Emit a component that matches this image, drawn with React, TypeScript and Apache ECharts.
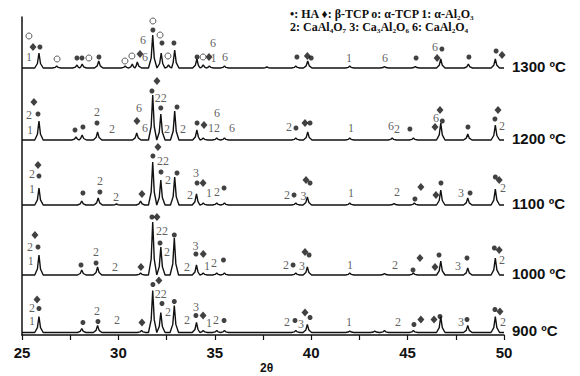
import React, { useEffect, useRef } from 'react';
import * as echarts from 'echarts';

type Peak = [number, number];
type Ann = [number, number, string];

const temperatures = ['900 ºC', '1000 ºC', '1100 ºC', '1200 ºC', '1300 ºC'];
const offsets = [2.5, 60, 130, 195, 267];

const peaks900: Peak[] = [[25.88,16],[28.1,4],[28.92,7],[31.2,2],[31.78,42],[32.2,20],[32.9,27],[34.05,10],[34.4,2],[35.1,2],[35.5,2],[39.2,2],[39.8,8],[42.0,1.5],[43.3,1.5],[43.8,2],[45.3,2],[46.72,16],[48.12,7],[49.55,16]];
const peaks1000: Peak[] = [[25.88,20],[28.1,5],[28.92,8],[31.15,2],[31.78,53],[32.2,28],[32.9,37],[34.05,10],[34.4,2],[35.1,2],[35.5,2],[39.2,2],[39.8,8],[42.0,2],[43.8,1.5],[45.3,2],[46.72,14],[48.12,7],[49.55,17]];
const peaks1100: Peak[] = [[25.88,17],[28.1,4],[28.95,7],[29.9,1],[31.15,4],[31.78,43],[32.2,25],[32.92,28],[34.05,11],[34.4,2],[35.1,2],[35.5,2],[39.2,2],[39.8,8],[42.0,2],[44.3,1.5],[45.35,2],[46.72,15],[48.12,7],[49.55,16]];
const peaks1200: Peak[] = [[25.88,19],[27.8,3],[28.12,5],[28.92,8],[30.95,7],[31.78,45],[32.2,26],[32.92,29],[34.07,10],[34.4,2],[35.1,2],[35.5,2],[39.2,2],[39.82,8],[42.0,2],[44.2,2],[45.3,2],[46.72,17],[48.12,6],[49.55,15]];
const peaks1300: Peak[] = [[25.88,15],[26.8,2],[27.85,3],[28.12,4],[28.98,7],[30.35,2],[30.72,4],[30.98,6],[31.78,33],[32.22,15],[32.6,3],[32.92,18],[34.07,9],[34.4,3],[34.72,2],[35.5,2],[37.7,1],[39.2,2],[39.82,7],[42.0,2],[43.8,1.5],[45.4,1.5],[46.72,9],[48.15,4],[49.55,9]];

const ann900: Ann[] = [
  [25.78,33,'♦'],[25.52,25,'2'],[25.88,24,'•'],[25.52,12,'1'],
  [28.16,10,'•'],[28.89,22,'2'],[28.94,11,'•'],[29.93,13,'2'],[31.22,10,'♦'],
  [31.79,48,'•'],[32.1,52,'♦'],[32.2,39,'22'],[32.26,29,'•'],[32.57,21,'2'],[32.9,31,'•'],[33.56,13,'2'],
  [34.03,26,'3'],[34.02,17,'•'],[34.39,17,'♦'],[34.7,10,'1'],[35.06,13,'2'],[35.48,12,'•'],
  [38.74,11,'2'],[39.16,12,'•'],[39.47,9,'3'],[39.68,20,'♦'],[39.94,15,'•'],[41.96,11,'1'],
  [44.5,11,'2'],[45.33,8,'•'],[45.69,13,'♦'],[46.37,13,'♦'],[46.68,16,'•'],
  [47.77,11,'3'],[48.08,13,'•'],[49.53,23,'•'],[49.79,21,'♦'],[49.95,11,'2'],
];
const ann1000: Ann[] = [
  [25.67,40,'♦'],[25.41,28,'2'],[25.83,28,'•'],[25.46,14,'1'],
  [28.06,10,'•'],[28.84,23,'2'],[28.84,12,'•'],[29.83,8,'2'],[31.17,8,'♦'],
  [31.74,58,'•'],[32.0,58,'♦'],[32.26,44,'22'],[32.16,32,'•'],[32.52,23,'2'],[32.9,40,'•'],[33.56,8,'2'],
  [34.0,29,'3'],[34.02,21,'•'],[34.4,21,'♦'],[34.6,9,'1'],[34.96,12,'2'],[35.45,15,'•'],
  [38.69,10,'2'],[39.06,10,'•'],[39.52,9,'3'],[39.68,23,'♦'],[39.89,20,'•'],[42.01,10,'1'],
  [44.35,10,'2'],[45.28,5,'•'],[45.64,17,'♦'],[46.42,8,'♦'],[46.63,20,'•'],
  [47.62,9,'3'],[48.08,17,'•'],[49.5,27,'•'],[49.75,25,'♦'],[49.9,15,'2'],
];
const ann1100: Ann[] = [
  [25.83,40,'♦'],[25.52,31,'2'],[25.88,29,'•'],[25.52,16,'1'],
  [28.16,12,'•'],[29.04,24,'2'],[29.04,13,'•'],[29.88,8,'2'],[31.22,11,'♦'],
  [32.05,58,'♦'],[31.79,49,'•'],[32.31,44,'22'],[32.21,33,'•'],[32.57,25,'2'],[33.04,32,'•'],[33.71,10,'2'],
  [34.03,32,'3'],[34.08,22,'•'],[34.39,22,'♦'],[34.7,12,'1'],[35.11,13,'2'],[35.48,17,'•'],
  [38.74,10,'2'],[39.11,10,'•'],[39.6,9,'3'],[39.73,25,'♦'],[39.94,22,'•'],[42.06,12,'1'],
  [44.45,13,'2'],[45.38,6,'•'],[45.69,18,'♦'],[46.47,10,'♦'],[46.73,22,'•'],
  [47.77,12,'3'],[48.24,12,'•'],[49.55,28,'•'],[49.75,25,'♦'],[49.95,17,'2'],
];
const ann1200: Ann[] = [
  [25.62,38,'♦'],[25.36,25,'2'],[25.83,26,'•'],[25.41,10,'1'],
  [27.75,10,'•'],[28.16,13,'•'],[28.89,28,'2'],[28.89,17,'•'],[29.67,11,'2'],
  [31.07,32,'6'],[30.96,19,'♦'],[31.38,12,'6'],
  [32.0,59,'♦'],[31.74,49,'•'],[32.2,42,'22'],[32.2,32,'•'],[32.52,11,'2'],[33.04,33,'•'],[33.35,11,'2'],
  [34.08,17,'•'],[34.44,15,'♦'],[34.96,12,'12'],[35.11,27,'6'],[35.89,12,'6'],
  [38.85,13,'2'],[39.21,12,'•'],[39.68,17,'♦'],[39.94,17,'•'],[42.06,12,'1'],
  [44.14,14,'6'],[44.45,11,'2'],[45.12,11,'•'],[46.42,13,'♦'],[46.47,22,'6'],[46.68,30,'♦'],[46.8,19,'•'],
  [48.13,13,'•'],[49.69,30,'♦'],[49.53,21,'•'],[49.9,14,'2'],
];
const ann1300: Ann[] = [
  [25.36,32,'o'],[25.57,21,'♦'],[25.93,21,'•'],[25.36,11,'1'],
  [26.82,9,'o'],[27.85,10,'•'],[28.11,10,'•'],[28.47,10,'o'],[28.99,11,'•'],
  [30.34,7,'o'],[30.7,12,'o'],[31.12,14,'♦'],[31.38,11,'6'],[31.28,28,'6'],
  [31.79,47,'o'],[31.79,38,'•'],[32.16,33,'o'],[32.26,25,'•'],[32.57,12,'o'],[32.88,25,'•'],
  [34.08,11,'•'],[34.39,11,'o'],[34.7,11,'♦'],[34.93,10,'1'],[34.91,25,'6'],[35.53,11,'6'],
  [39.26,11,'•'],[39.8,12,'♦'],[40.0,10,'•'],[41.96,10,'1'],[43.83,10,'6'],[45.44,10,'•'],
  [46.42,21,'6'],[46.53,10,'♦'],[46.78,19,'•'],[48.18,11,'•'],[49.59,17,'•'],[49.9,13,'♦'],
];

const allPeaks = [peaks900, peaks1000, peaks1100, peaks1200, peaks1300];
const allAnns = [ann900, ann1000, ann1100, ann1200, ann1300];

const legendLine1 = '•: HA ♦: β-TCP o: α-TCP 1: α-Al₂O₃';
const legendLine2 = '2: CaAl₄O₇ 3: Ca₃Al₂O₆ 6: CaAl₂O₄';
const xAxisTitle = '2θ';

function profile(peaks: Peak[], off: number): number[][] {
  const sorted = [...peaks].sort((a, b) => a[0] - b[0]);
  const pts: number[][] = [[25, off]];
  sorted.forEach((p, i) => {
    const prev = i > 0 ? sorted[i - 1][0] : 24;
    const next = i < sorted.length - 1 ? sorted[i + 1][0] : 51;
    const wl = Math.min(0.22, (p[0] - prev) / 2);
    const wr = Math.min(0.22, (next - p[0]) / 2);
    const il = Math.min(0.08, wl * 0.5);
    const ir = Math.min(0.08, wr * 0.5);
    pts.push([p[0] - wl, off]);
    pts.push([p[0] - il, off + p[1] * 0.3]);
    pts.push([p[0], off + p[1]]);
    pts.push([p[0] + ir, off + p[1] * 0.3]);
    pts.push([Math.min(50, p[0] + wr), off]);
  });
  pts.push([50, off]);
  return pts;
}

export default function App() {
  const ref = useRef<HTMLDivElement>(null);
  useEffect(() => {
    if (!ref.current) return;
    const chart = echarts.init(ref.current, undefined, { renderer: 'svg' });
    const dots: number[][] = [];
    const diamonds: number[][] = [];
    const circles: number[][] = [];
    const texts: any[] = [];
    allAnns.forEach((anns, k) => {
      anns.forEach(([x, h, t]) => {
        const y = offsets[k] + h;
        if (t === '•') dots.push([x, y]);
        else if (t === '♦') diamonds.push([x, y]);
        else if (t === 'o') circles.push([x, y]);
        else texts.push([x, y, t]);
      });
    });
    const lineSeries = allPeaks.map((pk, k) => ({
      type: 'line',
      data: profile(pk, offsets[k]),
      symbol: 'none',
      lineStyle: { color: '#111', width: 1.4 },
      z: 2,
      endLabel: {
        show: true,
        formatter: temperatures[k],
        distance: 8,
        offset: [0, -2],
        fontFamily: 'Liberation Sans',
        fontWeight: 'bold',
        fontSize: 15,
        color: '#111',
      },
    }));
    chart.setOption({
      animation: false,
      grid: { left: 22, right: 76, top: 17, bottom: 41, containLabel: false },
      xAxis: {
        type: 'value',
        min: 25,
        max: 50,
        interval: 2.5,
        axisLine: { lineStyle: { color: '#111', width: 1.5 } },
        axisTick: { show: true, length: 5, lineStyle: { color: '#111', width: 1.2 } },
        splitLine: { show: false },
        axisLabel: {
          formatter: (v: number) => (v % 5 === 0 ? String(v) : ''),
          fontFamily: 'Liberation Sans',
          fontWeight: 'bold',
          fontSize: 15,
          color: '#111',
          margin: 10,
        },
      },
      yAxis: {
        type: 'value',
        min: 0,
        max: 318,
        axisLine: { show: true, lineStyle: { color: '#111', width: 1.5 } },
        axisTick: { show: false },
        axisLabel: { show: false },
        splitLine: { show: false },
      },
      series: [
        ...lineSeries,
        { type: 'scatter', data: dots, symbol: 'circle', symbolSize: 5, itemStyle: { color: '#111' }, z: 3 },
        { type: 'scatter', data: diamonds, symbol: 'diamond', symbolSize: [7, 8], itemStyle: { color: '#111' }, z: 3 },
        { type: 'scatter', data: circles, symbol: 'circle', symbolSize: 6, itemStyle: { color: '#fff', borderColor: '#333', borderWidth: 1 }, z: 3 },
        {
          type: 'scatter',
          data: texts,
          symbolSize: 1,
          itemStyle: { color: 'rgba(0,0,0,0)' },
          z: 3,
          label: {
            show: true,
            position: [0.5, 0.5],
            align: 'center',
            verticalAlign: 'middle',
            formatter: (p: any) => p.data[2],
            fontFamily: 'Liberation Serif',
            fontSize: 12,
            color: '#333',
          },
        },
      ],
      graphic: [
        { type: 'text', left: 290, top: 8, style: { text: legendLine1, font: 'bold 12px "Liberation Serif"', fill: '#111' } },
        { type: 'text', left: 290, top: 21, style: { text: legendLine2, font: 'bold 12px "Liberation Serif"', fill: '#111' } },
        { type: 'text', left: 260, top: 362, style: { text: xAxisTitle, font: 'bold 12px "Liberation Sans"', fill: '#111' } },
      ],
    });
    return () => chart.dispose();
  }, []);
  return <div ref={ref} style={{ position: 'absolute', left: 0, top: 0, width: 580, height: 376 }} />;
}
